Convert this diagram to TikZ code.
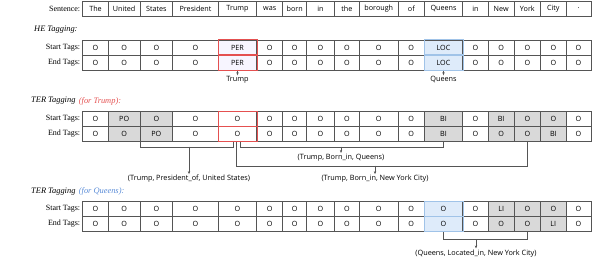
\documentclass[tikz,border=0pt]{standalone}
\usepackage{fontspec}
\setmainfont{Liberation Serif}
\newfontfamily\cellfont{Open Sans}
\usetikzlibrary{arrows.meta, calc, positioning}

\definecolor{gridc}{RGB}{85,85,85}
\definecolor{tagred}{RGB}{228,80,80}
\definecolor{perfill}{RGB}{247,245,255}
\definecolor{locfill}{RGB}{222,235,250}
\definecolor{locline}{RGB}{160,195,232}
\definecolor{tgray}{RGB}{217,217,217}
\definecolor{qblue}{RGB}{90,140,215}

% column borders of the token grid
\def\bnd{{82.7,108.3,140,172.7,218.3,256.7,282.7,306.7,334.3,359.3,398.3,424.3,462.7,488.3,514,540.7,566,591}}

\tikzset{
  tw/.style={draw=gridc, line width=0.6pt, fill=white, minimum height=15, inner sep=0pt,
    font=\cellfont\fontsize{7.2}{8}\selectfont},
  tg/.style={tw, fill=tgray},
  tr/.style={tw, fill=perfill},
  tb/.style={tw, fill=locfill},
  lab/.style={font=\fontsize{8}{9}\selectfont, inner sep=0pt},
  ttl/.style={anchor=west, font=\itshape\fontsize{8.4}{10}\selectfont, inner sep=0pt},
  rel/.style={font=\cellfont\fontsize{7.3}{8}\selectfont, inner sep=1pt},
  brk/.style={gridc, line width=0.6pt},
}

% one row of cells: name, y, list of text/style
\newcommand{\tagrow}[3]{%
  \foreach \tg/\st [count=\i] in {#3} {
    \pgfmathsetmacro\xl{\bnd[\i-1]}
    \pgfmathsetmacro\xr{\bnd[\i]}
    \node[\st, minimum width={(\xr-\xl)*1pt}] (#1-\i) at ({(\xl+\xr)/2},#2) {\tg};
  }}

\begin{document}
\begin{tikzpicture}[x=1pt, y=1pt, >={Stealth[length=3pt,width=2.4pt]}, line cap=round]
\useasboundingbox (0,0) rectangle (592,264);

% Frase
\tagrow{w}{255.5}{The/tw,United/tw,States/tw,President/tw,Trump/tw,was/tw,born/tw,in/tw,the/tw,borough/tw,of/tw,Queens/tw,in/tw,New/tw,York/tw,City/tw,./tw}
\node[lab, left=2pt of w-1] (sent) {Sentence:};

% HE
\node[ttl] (het) at (34,234) {HE Tagging:};
\tagrow{hs}{216.5}{O/tw,O/tw,O/tw,O/tw,PER/tr,O/tw,O/tw,O/tw,O/tw,O/tw,O/tw,LOC/tb,O/tw,O/tw,O/tw,O/tw,O/tw}
\tagrow{he}{201.5}{O/tw,O/tw,O/tw,O/tw,PER/tr,O/tw,O/tw,O/tw,O/tw,O/tw,O/tw,LOC/tb,O/tw,O/tw,O/tw,O/tw,O/tw}
\node[lab, left=2pt of hs-1] (hsl) {Start Tags:};
\node[lab, left=2pt of he-1] (hel) {End Tags:};

\node[rel, anchor=north] (ent1) at ($(he-5.south)+(0,-5)$) {Trump};
\node[rel, anchor=north] (ent2) at ($(he-12.south)+(0,-5)$) {Queens};
\draw[brk, ->] (he-5.south) -- (ent1.north);
\draw[brk, ->] (he-12.south) -- (ent2.north);

% TER per Trump
\node[ttl] (tert) at (31,163) {TER Tagging};
\node[ttl, text=tagred, right=3pt of tert] (tertr) {(for Trump):};
\tagrow{ts}{145}{O/tw,PO/tg,O/tg,O/tw,O/tw,O/tw,O/tw,O/tw,O/tw,O/tw,O/tw,BI/tg,O/tw,BI/tg,O/tg,O/tg,O/tw}
\tagrow{te}{130}{O/tw,O/tg,PO/tg,O/tw,O/tw,O/tw,O/tw,O/tw,O/tw,O/tw,O/tw,BI/tg,O/tw,O/tg,O/tg,BI/tg,O/tw}
\node[lab, left=2pt of ts-1] (tsl) {Start Tags:};
\node[lab, left=2pt of te-1] (tel) {End Tags:};

\coordinate (b1) at ($(te-2.south east)+(0,-5.5)$);
\coordinate (b2) at ($(te-5.south)+(2.5,-5.5)$);
\coordinate (b3) at ($(te-5.south)+(-1,-24.5)$);
\draw[brk] (te-2.south east) -- (b1) -| ($(te-5.south)+(-4,0)$);
\draw[brk] ($(te-5.south)+(2.5,0)$) -- (b2) -| (te-12.south);
\draw[brk] ($(te-5.south)+(-1,0)$) -- (b3) -| (te-15.south);

\node[rel] (r1) at (189,85) {(Trump, President\_of, United States)};
\node[rel] (r2) at (341,106.3) {(Trump, Born\_in, Queens)};
\node[rel] (r3) at (375,85) {(Trump, Born\_in, New York City)};
\draw[brk, ->] (r1.north |- b1) -- (r1.north);
\draw[brk, ->] (r2.north |- b2) -- (r2.north);
\draw[brk, ->] (r3.north |- b3) -- (r3.north);

% TER per Queens
\node[ttl] (terq) at (31,72.3) {TER Tagging};
\node[ttl, text=qblue, right=3pt of terq] (terqb) {(for Queens):};
\tagrow{qs}{55}{O/tw,O/tw,O/tw,O/tw,O/tw,O/tw,O/tw,O/tw,O/tw,O/tw,O/tw,O/tb,O/tw,LI/tg,O/tg,O/tg,O/tw}
\tagrow{qe}{40}{O/tw,O/tw,O/tw,O/tw,O/tw,O/tw,O/tw,O/tw,O/tw,O/tw,O/tw,O/tb,O/tw,O/tg,O/tg,LI/tg,O/tw}
\node[lab, left=2pt of qs-1] (qsl) {Start Tags:};
\node[lab, left=2pt of qe-1] (qel) {End Tags:};

\coordinate (b4) at ($(qe-12.south)+(0,-7.7)$);
\draw[brk] (qe-12.south) -- (b4) -| (qe-15.south);
\node[rel] (r4) at (476,10.7) {(Queens, Located\_in, New York City)};
\draw[brk, ->] (r4.north |- b4) -- (r4.north);

% bordi colorati
\foreach \r in {hs,he,ts,te}
  \draw[tagred, line width=0.6pt] (\r-5.south west) rectangle (\r-5.north east);
\foreach \r in {hs,he,qs,qe}
  \draw[locline, line width=0.6pt] (\r-12.south west) rectangle (\r-12.north east);

\end{tikzpicture}
\end{document}
